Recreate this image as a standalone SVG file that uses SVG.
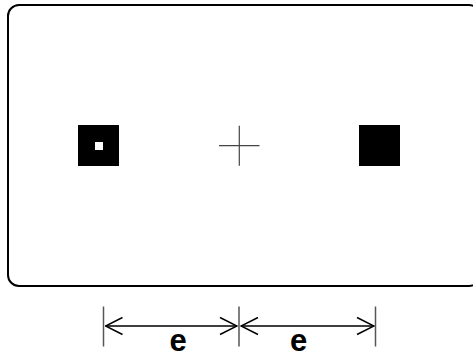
<svg xmlns="http://www.w3.org/2000/svg" width="473" height="358" viewBox="0 0 473 358">
<style>
.frame{fill:#fff;stroke:#000;stroke-width:2}
.tick{stroke:#555;stroke-width:1.5}
.dim{stroke:#000;stroke-width:1.5;fill:none}
.lbl{font-family:"Liberation Sans",Arial,sans-serif;font-weight:bold;font-size:31px;text-anchor:middle;fill:#000}
.cross{stroke:#444;stroke-width:1.2}
</style>
<defs>
<marker id="ah" viewBox="0 0 20 20" refX="19" refY="10" markerWidth="20" markerHeight="20" markerUnits="userSpaceOnUse" orient="auto-start-reverse">
<path d="M2,1.5 L19,10 L2,18.5" fill="none" stroke="#000" stroke-width="1.5"/>
</marker>
</defs>
<rect width="473" height="358" fill="#fff"/>
<g id="frame"><rect class="frame" x="8" y="5" width="472" height="281" rx="11"/></g>
<g id="left-square">
<rect x="78" y="125" width="41" height="41" fill="#000"/>
<rect x="95" y="142" width="8" height="8" fill="#fff"/>
</g>
<g id="center-cross">
<line class="cross" x1="219" y1="145.7" x2="259.5" y2="145.7"/>
<line class="cross" x1="239.3" y1="125.7" x2="239.3" y2="165.7"/>
</g>
<g id="right-square"><rect x="359" y="125" width="41" height="41" fill="#000"/></g>
<g id="connectors">
<line class="tick" x1="103.5" y1="306.5" x2="103.5" y2="346.5"/>
<line class="tick" x1="239" y1="306.5" x2="239" y2="346.5"/>
<line class="tick" x1="375.5" y1="306.5" x2="375.5" y2="346.5"/>
<line class="dim" x1="105.5" y1="326" x2="237" y2="326" marker-start="url(#ah)" marker-end="url(#ah)"/>
<line class="dim" x1="241" y1="326" x2="374" y2="326" marker-start="url(#ah)" marker-end="url(#ah)"/>
</g>
<g id="labels">
<text class="lbl" x="178" y="351">e</text>
<text class="lbl" x="298.5" y="351">e</text>
</g>
</svg>
